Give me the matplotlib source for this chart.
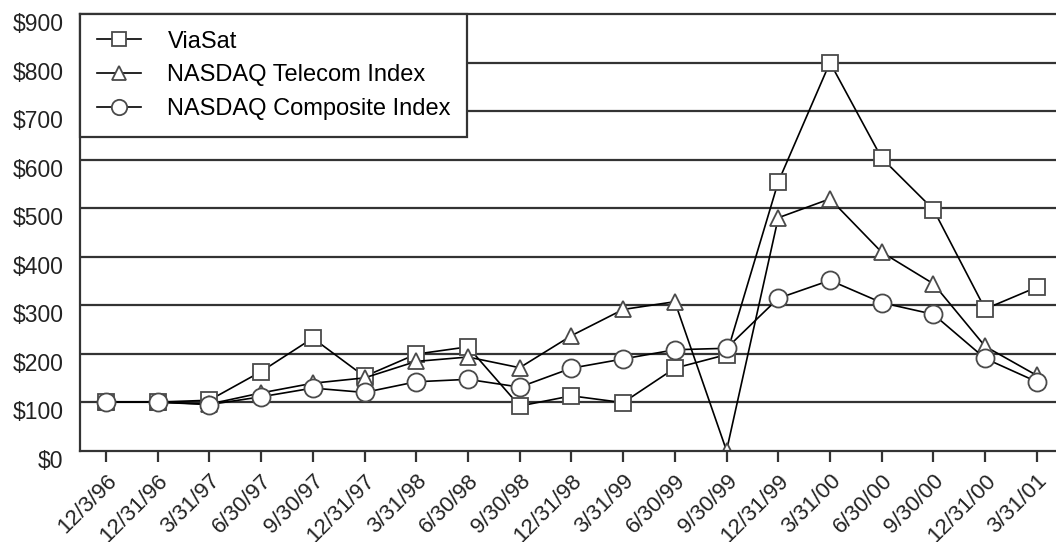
#!/usr/bin/env python3
"""Cumulative total return chart: ViaSat vs NASDAQ indices."""

import matplotlib

matplotlib.use("Agg")
import matplotlib.pyplot as plt
from matplotlib.transforms import ScaledTranslation

plt.rcParams["font.family"] = ["Liberation Sans", "DejaVu Sans"]

dates = [
    "12/3/96", "12/31/96", "3/31/97", "6/30/97", "9/30/97", "12/31/97",
    "3/31/98", "6/30/98", "9/30/98", "12/31/98", "3/31/99", "6/30/99",
    "9/30/99", "12/31/99", "3/31/00", "6/30/00", "9/30/00", "12/31/00",
    "3/31/01",
]
viasat = [100, 100, 104, 163, 232, 153, 199, 214, 92, 113, 99, 170,
          198, 554, 800, 603, 497, 292, 337]
telecom = [100, 100, 96, 119, 139, 150, 184, 193, 171, 237, 291, 307,
           0, 480, 519, 409, 344, 215, 155]
composite = [100, 100, 95, 111, 129, 120, 142, 147, 131, 170, 189, 208,
             211, 314, 351, 305, 281, 190, 142]
y_ticks = [0, 100, 200, 300, 400, 500, 600, 700, 800, 900]

series = [
    ("ViaSat", viasat, "s", 12),
    ("NASDAQ Telecom Index", telecom, "^", 12),
    ("NASDAQ Composite Index", composite, "o", 13),
]

fig = plt.figure(figsize=(10.56, 5.42), dpi=100)
ax = fig.add_axes([0.0758, 0.1685, 0.9242, 0.8057])

x = list(range(len(dates)))
for label, vals, marker, ms in series:
    ax.plot(x, vals, color="black", lw=1.2, marker=marker, ms=ms,
            mfc="white", mec="#4a4a4a", mew=1.3, label=label)

for v in y_ticks[1:-1]:
    ax.axhline(v, color="#333333", lw=1.6, zorder=0)

ax.set_xlim(-0.5, 18.37)
ax.set_ylim(0, 900)
ax.set_yticks(y_ticks)
ax.set_yticklabels([f"${v}" for v in y_ticks])
ax.set_xticks(x)
ax.set_xticklabels(dates, rotation=45, ha="right", rotation_mode="anchor")

ax.tick_params(axis="y", length=0, pad=12, labelsize=16.5, colors="#222222")
ax.tick_params(axis="x", length=8, width=1.6, pad=6, labelsize=16,
               colors="#333333", labelcolor="#222222")
# the dollar labels sit a little below their grid lines in the original
shift = ScaledTranslation(0, -6 / 72, fig.dpi_scale_trans)
for lab in ax.get_yticklabels():
    lab.set_transform(lab.get_transform() + shift)

for side in ("left", "bottom", "top"):
    ax.spines[side].set_color("#333333")
    ax.spines[side].set_linewidth(1.6)
ax.spines["right"].set_visible(False)

leg = ax.legend(loc="upper left", bbox_to_anchor=(0, 1), fontsize=17,
                frameon=True, fancybox=False, handlelength=1.9,
                handletextpad=1.1, borderpad=0.7, labelspacing=0.5,
                borderaxespad=0, markerscale=0.85)
leg.get_frame().set_edgecolor("#333333")
leg.get_frame().set_linewidth(1.6)
leg.get_frame().set_alpha(1)

fig.savefig("out.png", dpi=100)
